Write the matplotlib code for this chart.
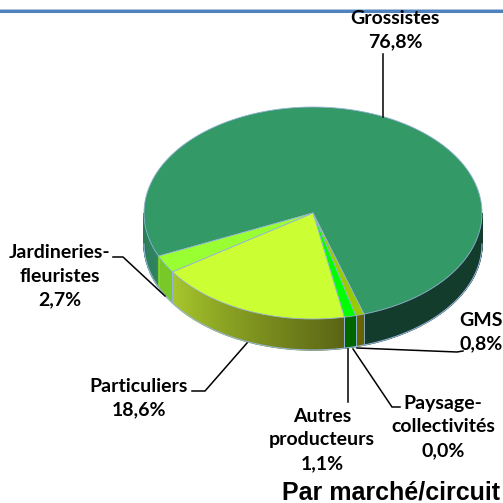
import numpy as np
import matplotlib.pyplot as plt
from matplotlib.colors import to_rgb
from matplotlib.patches import Polygon

names = ['Grossistes', 'GMS', 'Paysage-\ncollectivités', 'Autres\nproducteurs', 'Particuliers', 'Jardineries-\nfleuristes']
values = [76.8, 0.8, 0.0, 1.1, 18.6, 2.7]
labels = ['76,8%', '0,8%', '0,0%', '1,1%', '18,6%', '2,7%']
top_colors = ['#339966', '#99CC00', '#FFFFFF', '#00FF00', '#CCFF33', '#99FF33']
side_left = ['#2F8560', '#666600', '#FFFFFF', '#006600', '#A8C82C', '#78C828']
side_right = ['#143C2D', '#666600', '#FFFFFF', '#006600', '#5A6414', '#78C828']
label_pos = [(395, 30), (481, 332), (443, 427), (322, 440), (139, 398), (60, 276)]
leaders = [
    [(383, 54), (383, 117)],
    [(357, 348), (457, 352), (463, 351)],
    [(353, 349), (392, 407), (400, 407)],
    [(348, 349), (348, 402)],
    [(247, 343), (205, 391), (192, 391)],
    [(165, 296), (123, 257), (113, 257)],
]

cx, cy, rx, ry, depth = 313, 213, 169, 106, 31
start = 204.0
edge = '#95B3D7'


def px(a):
    a = np.radians(a)
    return cx + rx * np.cos(a), cy - ry * np.sin(a)


def wall(ax, a0, a1, c0, c1):
    # gradient made of thin strips, a0 < a1
    c0, c1 = np.array(to_rgb(c0)), np.array(to_rgb(c1))
    n = max(int(a1 - a0), 1)
    steps = np.linspace(a0, a1, n + 1)
    for i in range(n):
        x0, y0 = px(steps[i])
        x1, y1 = px(steps[i + 1])
        col = c0 + (c1 - c0) * i / n
        ax.add_patch(Polygon([(x0, y0), (x1, y1), (x1, y1 + depth), (x0, y0 + depth)],
                             fc=col, ec=col, lw=1.0, zorder=2))


fig = plt.figure(figsize=(5.03, 5.03), dpi=100)
ax = fig.add_axes([0, 0, 1, 1])
ax.set_xlim(0, 503)
ax.set_ylim(503, 0)
ax.axis('off')

# band at the top
ax.axhline(10.5, color='#4F81BD', lw=2.2, zorder=1)
ax.axhline(9, color='#9DB9DA', lw=0.6, zorder=1)

# angles go clockwise from start
edges = start - np.cumsum([0] + values) * 3.6
for i, v in enumerate(values):
    if v == 0:
        continue
    hi, lo = edges[i], edges[i + 1]
    if i == 0:
        wall(ax, 180, hi, '#2A7A58', side_left[0])
        wall(ax, lo + 360, 360, side_right[0], side_right[0])
    else:
        wall(ax, lo + 360 if lo < 180 else lo, hi + 360 if hi < 180 else hi, side_left[i], side_right[i])

for i, v in enumerate(values):
    if v == 0:
        continue
    hi, lo = edges[i], edges[i + 1]
    if i > 0:
        for a in (lo, hi):
            x, y = px(a)
            ax.plot([x, x], [y, y + depth], color=edge, lw=0.6, zorder=3)
    t = np.linspace(lo, hi, max(int(hi - lo) * 2, 2))
    xs, ys = px(t)
    pts = [(cx, cy)] + list(zip(xs, ys))
    ax.add_patch(Polygon(pts, closed=True, fc=top_colors[i], ec=edge, lw=0.6, zorder=4))

# lower outline of the wall
t = np.linspace(180, 360, 200)
xs, ys = px(t)
ax.plot(xs, ys + depth, color=edge, lw=0.8, zorder=3)

for pts in leaders:
    ax.plot(*zip(*pts), color='black', lw=1.1, zorder=5, solid_joinstyle='miter')

for n, l, (x, y) in zip(names, labels, label_pos):
    ax.text(x, y, n + '\n' + l, ha='center', va='center', family='Lato', weight='bold',
            fontsize=14, linespacing=1.5, color='black', zorder=6)

ax.text(391, 492, 'Par marché/circuit', ha='center', va='center', family='Liberation Sans',
        weight='bold', fontsize=18, color='black')

fig.savefig('out.png', dpi=100)
